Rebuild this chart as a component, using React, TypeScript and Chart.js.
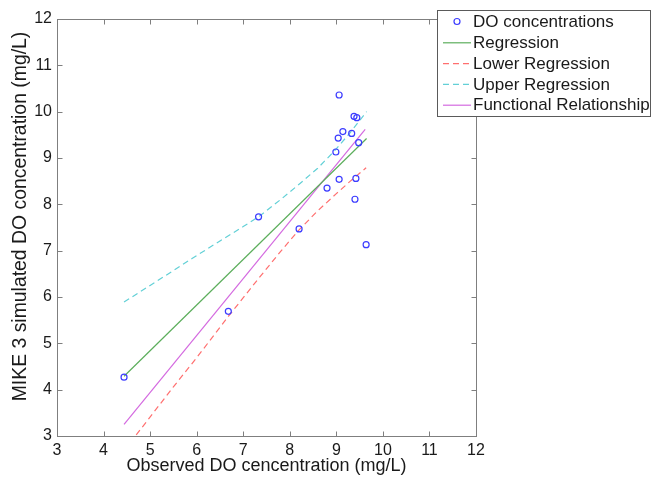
import React, { useEffect, useRef } from "react";
import { Chart, registerables } from "chart.js";

Chart.register(...registerables);

// ---- data ----
const seriesNames = [
  "DO concentrations",
  "Regression",
  "Lower Regression",
  "Upper Regression",
  "Functional Relationship",
];

const observedDO = [4.44, 6.68, 7.33, 8.2, 8.8, 8.99, 9.04, 9.06, 9.06, 9.14, 9.33, 9.38, 9.4, 9.42, 9.44, 9.48, 9.64];
const simulatedDO = [4.27, 5.69, 7.73, 7.47, 8.35, 9.13, 9.43, 10.36, 8.54, 9.57, 9.53, 9.9, 8.11, 8.56, 9.87, 9.33, 7.13];

const regressionX = [4.44, 9.65];
const regressionY = [4.29, 9.42];

const lowerX = [4.44, 4.7, 5.5, 6.0, 6.68, 7.29, 7.8, 8.2, 8.6, 9.0, 9.3, 9.64];
const lowerY = [2.68, 3.02, 4.06, 4.69, 5.58, 6.35, 6.98, 7.45, 7.86, 8.23, 8.5, 8.79];

const upperX = [4.44, 5.0, 5.5, 5.9, 6.5, 7.0, 7.33, 7.8, 8.22, 8.6, 8.94, 9.3, 9.65];
const upperY = [5.89, 6.25, 6.57, 6.83, 7.21, 7.52, 7.73, 8.1, 8.45, 8.78, 9.13, 9.55, 10.0];

const functionalX = [4.44, 9.62];
const functionalY = [3.25, 9.62];

const xTicks = [3, 4, 5, 6, 7, 8, 9, 10, 11, 12];
const yTicks = [3, 4, 5, 6, 7, 8, 9, 10, 11, 12];

const xTitle = "Observed DO cencentration (mg/L)";
const yTitle = "MIKE 3 simulated DO concentration (mg/L)";

// ---- styles ----
const FONT = "'Liberation Sans', Arial, Helvetica, sans-serif";
const TEXT = "#1a1a1a";
const FRAME = "#7f7f7f";
const C_POINT = "#3c3cff";
const C_REG = "#5cae5c";
const C_LOW = "#ff6f6f";
const C_UP = "#62d0d6";
const C_FUN = "#d46ae0";

const zip = (xs: number[], ys: number[]) => xs.map((x, i) => ({ x, y: ys[i] }));

export default function App() {
  const ref = useRef<HTMLCanvasElement>(null);

  useEffect(() => {
    const canvas = ref.current;
    if (!canvas) return;

    const framePlugin = {
      id: "matlabFrame",
      afterDatasetsDraw(chart: any) {
        const { ctx, chartArea, scales } = chart;
        const { left, right, top, bottom } = chartArea;
        const L = Math.round(left) + 0.5;
        const R = Math.round(right) + 0.5;
        const T = Math.round(top) + 0.5;
        const B = Math.round(bottom) + 0.5;
        ctx.save();
        ctx.strokeStyle = FRAME;
        ctx.lineWidth = 1;
        ctx.strokeRect(L, T, R - L, B - T);
        const tl = 5;
        ctx.beginPath();
        xTicks.forEach((v) => {
          const px = Math.round(scales.x.getPixelForValue(v)) + 0.5;
          ctx.moveTo(px, B);
          ctx.lineTo(px, B - tl);
          ctx.moveTo(px, T);
          ctx.lineTo(px, T + tl);
        });
        yTicks.forEach((v) => {
          const py = Math.round(scales.y.getPixelForValue(v)) + 0.5;
          ctx.moveTo(L, py);
          ctx.lineTo(L + tl, py);
          ctx.moveTo(R, py);
          ctx.lineTo(R - tl, py);
        });
        ctx.stroke();

        // y axis title
        ctx.fillStyle = TEXT;
        ctx.font = `19.4px ${FONT}`;
        ctx.textAlign = "center";
        ctx.textBaseline = "middle";
        ctx.translate(21, (top + bottom) / 2 - 11);
        ctx.rotate(-Math.PI / 2);
        ctx.fillText(yTitle, 0, 0);
        ctx.restore();
      },
    };

    const legendPlugin = {
      id: "boxLegend",
      afterDraw(chart: any) {
        const { ctx } = chart;
        const bx = 437.5, by = 10.5, bw = 213, bh = 106;
        ctx.save();
        ctx.fillStyle = "#ffffff";
        ctx.fillRect(bx, by, bw, bh);
        ctx.strokeStyle = "#5a5a5a";
        ctx.lineWidth = 1;
        ctx.strokeRect(bx, by, bw, bh);
        ctx.font = `17px ${FONT}`;
        ctx.textAlign = "left";
        ctx.textBaseline = "middle";
        chart.data.datasets.forEach((ds: any, i: number) => {
          const cy = 21.5 + i * 20.8;
          if (i === 0) {
            ctx.beginPath();
            ctx.strokeStyle = ds.borderColor;
            ctx.lineWidth = 1.2;
            ctx.arc(457, cy, 3, 0, Math.PI * 2);
            ctx.stroke();
          } else {
            ctx.beginPath();
            ctx.strokeStyle = ds.borderColor;
            ctx.lineWidth = 1.2;
            ctx.setLineDash(ds.borderDash || []);
            ctx.moveTo(443, cy + 0.5);
            ctx.lineTo(471, cy + 0.5);
            ctx.stroke();
            ctx.setLineDash([]);
          }
          ctx.fillStyle = TEXT;
          ctx.fillText(ds.label, 473, cy + 1);
        });
        ctx.restore();
      },
    };

    const lineDs = (label: string, xs: number[], ys: number[], color: string, dash: number[]) => ({
      label,
      data: zip(xs, ys),
      showLine: true,
      borderColor: color,
      backgroundColor: color,
      borderWidth: 1.2,
      borderDash: dash,
      pointRadius: 0,
      pointHoverRadius: 0,
      tension: 0,
      fill: false,
    });

    const tickFont = { family: FONT, size: 16 };

    const chart = new Chart(canvas, {
      type: "scatter",
      data: {
        datasets: [
          {
            label: seriesNames[0],
            data: zip(observedDO, simulatedDO),
            showLine: false,
            pointStyle: "circle",
            pointRadius: 3,
            pointBorderWidth: 1.2,
            borderColor: C_POINT,
            backgroundColor: "rgba(0,0,0,0)",
            order: 0,
          } as any,
          lineDs(seriesNames[1], regressionX, regressionY, C_REG, []),
          lineDs(seriesNames[2], lowerX, lowerY, C_LOW, [6, 4]),
          lineDs(seriesNames[3], upperX, upperY, C_UP, [6, 4]),
          lineDs(seriesNames[4], functionalX, functionalY, C_FUN, []),
        ],
      },
      options: {
        animation: false,
        responsive: false,
        devicePixelRatio: 1,
        layout: { padding: { top: 19, right: 176, left: 0, bottom: 0 } },
        plugins: {
          legend: { display: false },
          tooltip: { enabled: false },
        },
        scales: {
          x: {
            type: "linear",
            min: 3,
            max: 12,
            afterBuildTicks: (s: any) => {
              s.ticks = xTicks.map((v) => ({ value: v }));
            },
            afterFit: (s: any) => {
              s.height = 41;
            },
            grid: { display: false, drawTicks: false },
            border: { display: false },
            ticks: {
              font: tickFont,
              color: TEXT,
              padding: 5,
              maxRotation: 0,
              autoSkip: false,
            },
            title: {
              display: true,
              text: xTitle,
              font: { family: FONT, size: 18 },
              color: TEXT,
              padding: { top: 0, bottom: 0 },
            },
          },
          y: {
            type: "linear",
            min: 3,
            max: 12,
            afterBuildTicks: (s: any) => {
              s.ticks = yTicks.map((v) => ({ value: v }));
            },
            afterFit: (s: any) => {
              s.width = 57;
            },
            grid: { display: false, drawTicks: false },
            border: { display: false },
            ticks: {
              font: tickFont,
              color: TEXT,
              padding: 5,
              autoSkip: false,
            },
          },
        },
      } as any,
      plugins: [framePlugin, legendPlugin],
    });

    return () => chart.destroy();
  }, []);

  return (
    <canvas
      ref={ref}
      width={652}
      height={477}
      style={{ position: "absolute", left: 0, top: 0, width: 652, height: 477 }}
    />
  );
}
